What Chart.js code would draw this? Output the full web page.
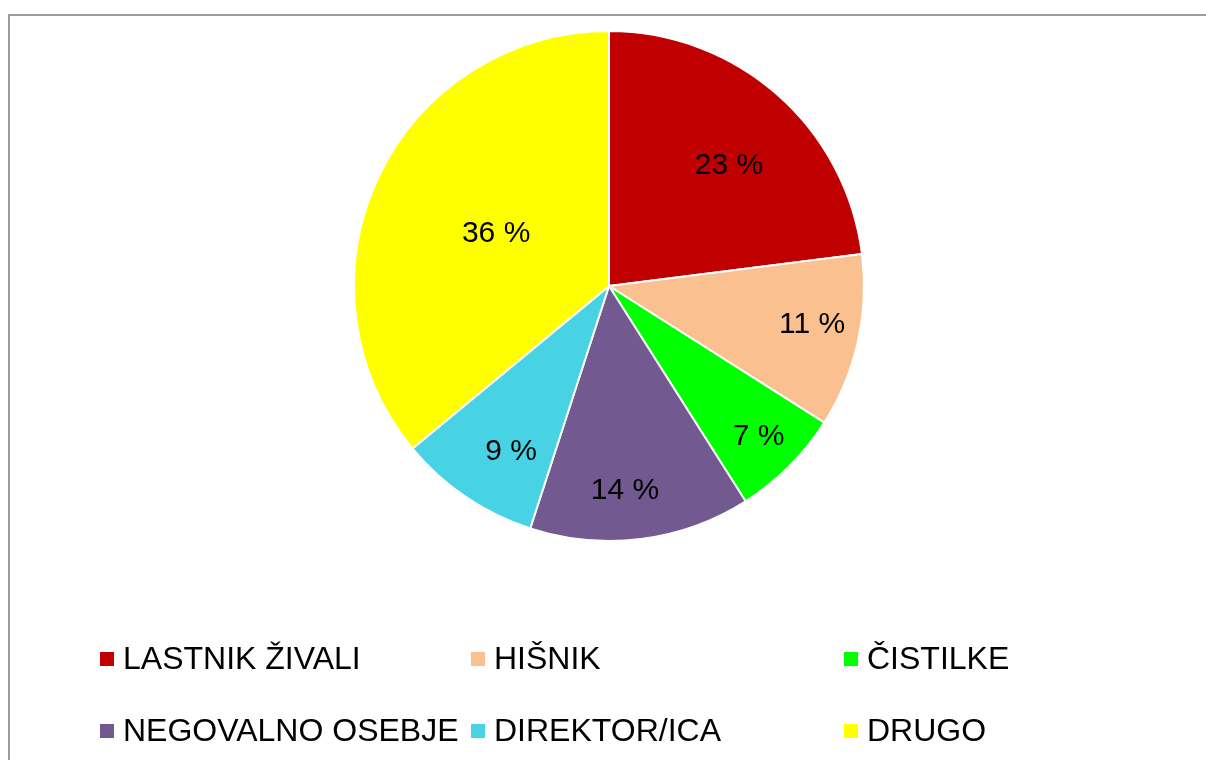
<!DOCTYPE html>
<html lang="sl">
<head>
<meta charset="UTF-8">
<title>Delež po skupinah</title>
<script src="https://cdn.jsdelivr.net/npm/chart.js"></script>
<style>
    html, body { margin: 0; padding: 0; background: #fff; overflow: hidden; }
    .frame { position: absolute; left: 8px; top: 14px; width: 1400px; height: 1000px; border: 2px solid #9d9d9d; }
    #pie { position: absolute; left: 0; top: 0; }
</style>
</head>
<body>
<div class="frame"></div>
<canvas id="pie" width="1206" height="760"></canvas>
<script>
    // data
    const categories = ['LASTNIK ŽIVALI', 'HIŠNIK', 'ČISTILKE', 'NEGOVALNO OSEBJE', 'DIREKTOR/ICA', 'DRUGO'];
    const shares = [23, 11, 7, 14, 9, 36];
    const sliceColors = ['#c00000', '#fac090', '#00ff00', '#72598f', '#48d3e5', '#ffff00'];

    // label placement: fraction of radius and small turn (degrees) from slice middle
    const labelDepth = [0.67, 0.81, 0.83, 0.80, 0.75, 0.49];
    const labelTurn = [3.2, -2.2, 0, 2.7, -3.4, 0.2];

    const font = '"Liberation Sans", Arial, sans-serif';

    // percentage labels inside the slices
    const sliceLabels = {
        id: 'sliceLabels',
        afterDatasetsDraw(chart) {
            const ctx = chart.ctx;
            const meta = chart.getDatasetMeta(0);
            ctx.save();
            ctx.font = '30px ' + font;
            ctx.fillStyle = '#000';
            ctx.textAlign = 'center';
            ctx.textBaseline = 'middle';
            meta.data.forEach((arc, i) => {
                const p = arc.getProps(['x', 'y', 'startAngle', 'endAngle', 'outerRadius'], true);
                const mid = (p.startAngle + p.endAngle) / 2 + labelTurn[i] * Math.PI / 180;
                const r = p.outerRadius * labelDepth[i];
                ctx.fillText(shares[i] + ' %', p.x + Math.cos(mid) * r, p.y + Math.sin(mid) * r + 1);
            });
            ctx.restore();
        }
    };

    // legend in a 3 column grid like the original
    const gridLegend = {
        id: 'gridLegend',
        afterDraw(chart) {
            const ctx = chart.ctx;
            const colX = [100, 471, 844];
            const rowY = [659, 731];
            const box = 14;
            ctx.save();
            ctx.font = '32px ' + font;
            ctx.textBaseline = 'middle';
            ctx.textAlign = 'left';
            categories.forEach((name, i) => {
                const x = colX[i % 3];
                const y = rowY[Math.floor(i / 3)];
                ctx.fillStyle = sliceColors[i];
                ctx.fillRect(x, y - box / 2, box, box);
                ctx.fillStyle = '#000';
                ctx.fillText(name, x + 23, y + 1);
            });
            ctx.restore();
        }
    };

    new Chart(document.getElementById('pie'), {
        type: 'pie',
        data: {
            labels: categories,
            datasets: [{
                data: shares,
                backgroundColor: sliceColors,
                borderColor: '#ffffff',
                borderWidth: 2,
                radius: 255
            }]
        },
        options: {
            responsive: false,
            animation: false,
            layout: { padding: { left: 12, right: 0, top: 31, bottom: 219 } },
            plugins: {
                legend: { display: false },
                tooltip: { enabled: false }
            }
        },
        plugins: [sliceLabels, gridLegend]
    });
</script>
</body>
</html>
